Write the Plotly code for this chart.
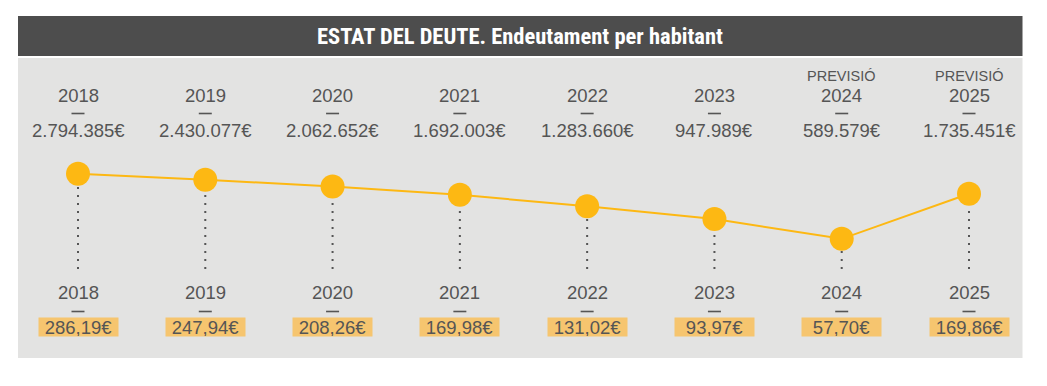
import plotly.graph_objects as go

# ---------------- data ----------------
years = ["2018", "2019", "2020", "2021", "2022", "2023", "2024", "2025"]
forecast = [False, False, False, False, False, False, True, True]
total_debt = [2794385, 2430077, 2062652, 1692003, 1283660, 947989, 589579, 1735451]
per_capita = [286.19, 247.94, 208.26, 169.98, 131.02, 93.97, 57.70, 169.86]

title = "ESTAT DEL DEUTE. Endeutament per habitant"
forecast_word = "PREVISIÓ"

# ---------------- styling ----------------
W, H = 1047, 386
TXT = "#555555"
YEL = "#FDB813"
BOX = "#F6C56F"
PANEL = "#E3E3E2"
BAR = "#4D4D4D"
FONT = "Liberation Sans, Arial, sans-serif"
TFONT = "Roboto Condensed, Open Sans Condensed, sans-serif"


def fmt_total(v):
    return f"{v:,}".replace(",", ".") + "€"


def fmt_pc(v):
    return f"{v:.2f}".replace(".", ",") + "€"


def py(px):  # pixel from top -> paper y
    return 1 - px / H


x = list(range(len(years)))
x_first_px, x_last_px = 78, 969
step = (x_last_px - x_first_px) / (len(years) - 1)
xr = [-x_first_px / step, (W - x_first_px) / step]

# log y axis, range chosen so the dots sit in the band of the reference
yr = [4.2396, 8.2546]
base_log = yr[0] + (yr[1] - yr[0]) * (1 - 269 / H)
base_val = 10 ** base_log

fig = go.Figure()

# dotted drop lines
dx, dy = [], []
for i, v in enumerate(total_debt):
    dx += [i, i, None]
    dy += [base_val, v, None]
fig.add_trace(go.Scatter(x=dx, y=dy, mode="lines",
                         line=dict(color=TXT, width=2, dash="2px,6px"),
                         hoverinfo="skip", showlegend=False))

# line + dots
fig.add_trace(go.Scatter(x=x, y=total_debt, mode="lines+markers",
                         line=dict(color=YEL, width=2),
                         marker=dict(color=YEL, size=24),
                         showlegend=False))

shapes = [
    dict(type="rect", xref="paper", yref="paper", x0=18 / W, x1=1022.5 / W,
         y0=py(358), y1=py(58), fillcolor=PANEL, line_width=0, layer="below"),
    dict(type="rect", xref="paper", yref="paper", x0=18 / W, x1=1022.5 / W,
         y0=py(56), y1=py(16), fillcolor=BAR, line_width=0, layer="below"),
]

# short separator dashes under each year
half = 6.5 / step
for i in range(len(years)):
    for ypx in (113.5, 311.5):
        shapes.append(dict(type="line", xref="x", yref="paper", x0=i - half, x1=i + half,
                           y0=py(ypx), y1=py(ypx), line=dict(color=TXT, width=1.6)))

ann = [dict(text=f"<b>{title}</b>", xref="paper", yref="paper", x=520 / W, y=py(36),
            showarrow=False, font=dict(family=TFONT, size=22.5, color="white"),
            xanchor="center", yanchor="middle")]

for i in range(len(years)):
    base = dict(xref="x", yref="paper", x=i, showarrow=False,
                xanchor="center", yanchor="middle", font=dict(family=FONT, size=18.5, color=TXT))
    if forecast[i]:
        ann.append({**base, "text": forecast_word, "y": py(75.5),
                    "font": dict(family=FONT, size=14.5, color=TXT)})
    ann.append({**base, "text": years[i], "y": py(95.5)})
    ann.append({**base, "text": fmt_total(total_debt[i]), "y": py(130)})
    # bottom
    ann.append({**base, "text": years[i], "y": py(292.5)})
    ann.append({**base, "text": fmt_pc(per_capita[i]), "y": py(326.5),
                "bgcolor": BOX, "width": 79, "height": 18, "borderpad": 0})

fig.update_layout(
    width=W, height=H,
    margin=dict(l=0, r=0, t=0, b=0, pad=0),
    paper_bgcolor="white", plot_bgcolor="white",
    xaxis=dict(range=xr, visible=False, fixedrange=True),
    yaxis=dict(type="log", range=yr, visible=False, fixedrange=True),
    shapes=shapes, annotations=ann, showlegend=False,
)

fig.write_html("out.html", config={"displayModeBar": False},
               post_script="document.body.style.margin='0';")
